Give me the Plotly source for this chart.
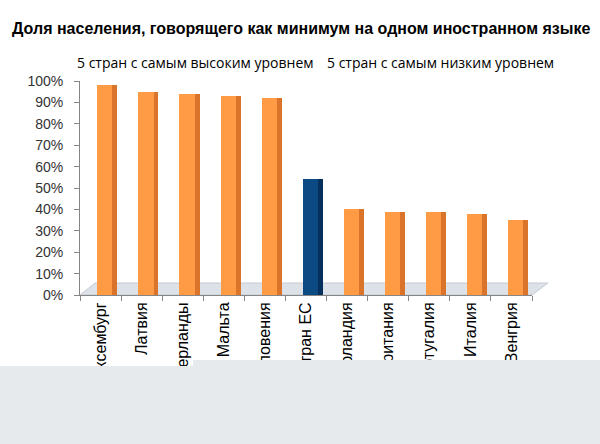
import plotly.graph_objects as go

# доля населения, говорящего как минимум на одном иностранном языке (%)
countries = [
    "Люксембург", "Латвия", "Нидерланды", "Мальта", "Словения",
    "27 стран ЕС",
    "Ирландия", "Великобритания", "Португалия", "Италия", "Венгрия",
]
share = [98, 95, 94, 93, 92, 54, 40, 39, 39, 38, 35]
front_colors = ["#FF9B45"] * 5 + ["#0B4A82"] + ["#FF9B45"] * 5
side_colors = ["#D9742A"] * 5 + ["#052F5C"] + ["#D9742A"] * 5

title_text = "Доля населения, говорящего как минимум на одном иностранном языке"
legend_high = "5 стран с самым высоким уровнем"
legend_low = "5 стран с самым низким уровнем"

W, H = 600, 444
L, R, T, B = 80, 68, 81, 149
pw, ph = W - L - R, H - T - B


def px_x(v):
    return (v - L) / pw


def px_y(v):
    return (H - B - v) / ph


fig = go.Figure()
# передняя грань столбцов
fig.add_trace(go.Bar(
    x=countries, y=share, marker_color=front_colors, marker_line_width=0,
    width=0.37, offset=-0.08, showlegend=False,
))
# боковая грань (псевдо-3D)
fig.add_trace(go.Bar(
    x=countries, y=share, marker_color=side_colors, marker_line_width=0,
    width=0.12, offset=0.29, showlegend=False,
))

# пол диаграммы
floor = (f"M {px_x(80)} {px_y(295)} L {px_x(95)} {px_y(283)} "
         f"L {px_x(548)} {px_y(283)} L {px_x(532)} {px_y(295)} Z")
# серая панель внизу слайда
panel = (f"M {px_x(0)} {px_y(366)} L {px_x(193)} {px_y(366)} "
         f"L {px_x(193)} {px_y(360)} L {px_x(600)} {px_y(360)} "
         f"L {px_x(600)} {px_y(444)} L {px_x(0)} {px_y(444)} Z")

fig.update_layout(
    width=W, height=H,
    margin=dict(l=L, r=R, t=T, b=B),
    paper_bgcolor="white", plot_bgcolor="white",
    barmode="overlay", bargap=0,
    font=dict(family="Liberation Sans, Arial, sans-serif", color="#000000"),
    title=dict(
        text=f"<b>{title_text}</b>", xref="container", yref="container",
        x=12 / W, y=1 - 28 / H, xanchor="left", yanchor="middle",
        font=dict(size=16, color="#000000"),
    ),
    shapes=[
        dict(type="path", path=floor, xref="paper", yref="paper", layer="below",
             fillcolor="#DDE2E8", line=dict(color="#C5CAD1", width=1)),
        dict(type="path", path=panel, xref="paper", yref="paper", layer="above",
             fillcolor="#E7EAED", line=dict(width=0)),
    ],
    annotations=[
        dict(text=legend_high, xref="paper", yref="paper", x=px_x(75), y=px_y(62),
             xanchor="left", yanchor="middle", showarrow=False,
             font=dict(family="Open Sans, sans-serif", size=14, color="#000000")),
        dict(text=legend_low, xref="paper", yref="paper", x=px_x(325), y=px_y(62),
             xanchor="left", yanchor="middle", showarrow=False,
             font=dict(family="Open Sans, sans-serif", size=14, color="#000000")),
    ],
)
fig.update_yaxes(
    range=[0, 100], dtick=10, ticksuffix="%", showgrid=False, zeroline=False,
    showline=True, linecolor="#868686", ticks="outside", ticklen=5,
    tickcolor="#868686", tickfont=dict(size=14, color="#333333"),
    ticklabelstandoff=8,
)
fig.update_xaxes(
    tickangle=-90, tickson="boundaries", ticks="outside", ticklen=5,
    tickcolor="#868686", showline=True, linecolor="#868686",
    tickfont=dict(size=16, color="#000000"), range=[-0.5, 10.5],
)

fig.write_html(
    "out.html",
    config={"displayModeBar": False},
    post_script="document.body.style.margin = '0';",
)
